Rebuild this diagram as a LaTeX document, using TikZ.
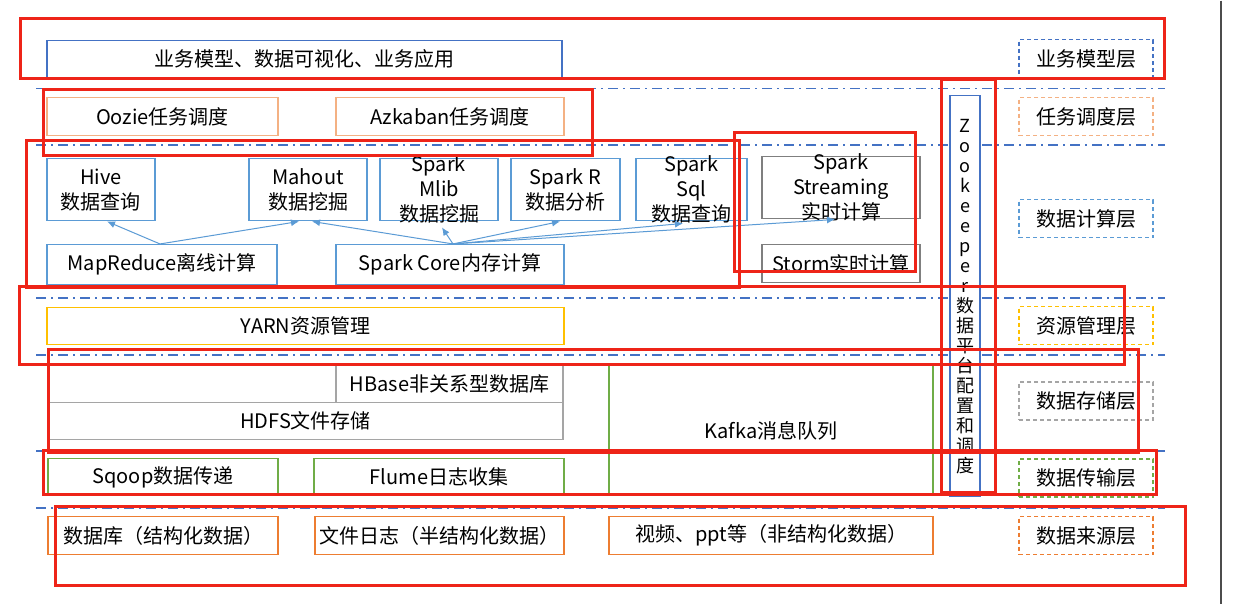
\documentclass[tikz,border=0pt]{standalone}
\usepackage{fontspec}
\setmainfont{Noto Sans CJK SC}
\usepackage{tikz}
\usetikzlibrary{arrows.meta}
\definecolor{hlred}{RGB}{238,36,24}
\definecolor{darkblue}{HTML}{4472C4}
\definecolor{boxblue}{HTML}{5B9BD5}
\definecolor{lightorange}{HTML}{F4B183}
\definecolor{srcorange}{HTML}{ED7D31}
\definecolor{yarnyellow}{HTML}{FFC000}
\definecolor{movegreen}{HTML}{70AD47}
\definecolor{storegrey}{HTML}{A5A5A5}
\definecolor{streamgrey}{HTML}{7F7F7F}
\tikzset{
  layerbox/.style={rectangle, draw, fill=white, line width=0.75pt, inner sep=0pt, text centered, align=center, font=\fontsize{10}{12.5}\selectfont},
  layertag/.style={layerbox, dash pattern=on 2pt off 1.5pt, minimum width=67pt, minimum height=19pt},
  layerline/.style={draw=darkblue, line width=0.8pt, dash pattern=on 5pt off 2.5pt on 1pt off 2.5pt},
  highlight/.style={draw=hlred, line width=1.5pt},
  arrow/.style={draw=boxblue, line width=0.5pt, -{Latex[length=4pt,width=3.5pt]}},
  stacked/.style={font=\fontsize{10}{12.5}\selectfont, align=center, inner sep=0pt}
}
\begin{document}
\begin{tikzpicture}[x=0.5pt, y=-0.5pt]
    \fill[white] (0,0) rectangle (1242,603);

    % 分隔线
    \foreach \y in {88,144,297,354,450,507}
      \draw[layerline] (36,\y) -- (1165,\y);

    % 业务模型层
    \node (business) [layerbox, draw=darkblue, minimum width=257.5pt, minimum height=18.5pt] at (304.5,58.5)
    {业务模型、数据可视化、业务应用};
    \node (tag_business) [layertag, draw=darkblue] at (1086,58) {业务模型层};

    % 任务调度层
    \node (oozie) [layerbox, draw=lightorange, minimum width=115.5pt, minimum height=19pt] at (162.5,116) {Oozie任务调度};
    \node (azkaban) [layerbox, draw=lightorange, minimum width=114pt, minimum height=19pt] at (450,116) {Azkaban任务调度};
    \node (tag_schedule) [layertag, draw=lightorange] at (1086,116) {任务调度层};

    % 数据计算层
    \node (hive) [layerbox, draw=boxblue, minimum width=54pt, minimum height=31pt] at (101,189) {Hive\\ 数据查询};
    \node (mahout) [layerbox, draw=boxblue, minimum width=59pt, minimum height=31pt] at (308,189) {Mahout\\ 数据挖掘};
    \node (mlib) [layerbox, draw=boxblue, minimum width=59pt, minimum height=31pt,
      label={[stacked]center:Spark\\ Mlib\\ 数据挖掘}] at (439,189) {};
    \node (spark_r) [layerbox, draw=boxblue, minimum width=54.5pt, minimum height=31pt] at (565.5,189) {Spark R\\ 数据分析};
    \node (spark_sql) [layerbox, draw=boxblue, minimum width=55.5pt, minimum height=31pt,
      label={[stacked]center:Spark\\ Sql\\ 数据查询}] at (691.5,189) {};
    \node (streaming) [layerbox, draw=streamgrey, minimum width=79pt, minimum height=31pt,
      label={[stacked]center:Spark\\ Streaming\\ 实时计算}] at (841,187) {};
    \node (mapreduce) [layerbox, draw=boxblue, minimum width=115pt, minimum height=20pt] at (162,264) {MapReduce离线计算};
    \node (spark_core) [layerbox, draw=boxblue, minimum width=114pt, minimum height=20pt] at (450,264) {Spark Core内存计算};
    \node (storm) [layerbox, draw=streamgrey, minimum width=79pt, minimum height=19pt] at (841,263) {Storm实时计算};
    \node (tag_compute) [layertag, draw=boxblue] at (1086,218) {数据计算层};

    % 资源管理层
    \node (yarn) [layerbox, draw=yarnyellow, minimum width=258.5pt, minimum height=18.5pt] at (305.5,325.5) {YARN资源管理};
    \node (tag_resource) [layertag, draw=yarnyellow] at (1086,325) {资源管理层};

    % 数据存储层
    \node (kafka) [layerbox, draw=movegreen, minimum width=162pt, minimum height=65pt] at (771,430) {Kafka消息队列};
    \node (hbase) [layerbox, draw=storegrey, minimum width=113.5pt, minimum height=18.5pt] at (449.5,383.5) {HBase非关系型数据库};
    \node (hdfs) [layerbox, draw=storegrey, minimum width=257.5pt, minimum height=18.5pt] at (305.5,420.5) {HDFS文件存储};
    \node (tag_storage) [layertag, draw=storegrey] at (1086,400.5) {数据存储层};

    % 数据传输层
    \node (sqoop) [layerbox, draw=movegreen, minimum width=115pt, minimum height=18.5pt] at (163,476.5) {Sqoop数据传递};
    \node (flume) [layerbox, draw=movegreen, minimum width=125pt, minimum height=18.5pt] at (439,476.5) {Flume日志收集};
    \node (tag_transport) [layertag, draw=movegreen] at (1086,477.5) {数据传输层};

    % 数据来源层
    \node (db_src) [layerbox, draw=srcorange, minimum width=115pt, minimum height=19pt] at (163,535) {数据库（结构化数据）};
    \node (log_src) [layerbox, draw=srcorange, minimum width=124.5pt, minimum height=19pt] at (439.5,535) {文件日志（半结构化数据）};
    \node (video_src) [layerbox, draw=srcorange, minimum width=162pt, minimum height=19pt] at (771,535) {视频、ppt等（非结构化数据）};
    \node (tag_source) [layertag, draw=srcorange] at (1086,535) {数据来源层};

    % Zookeeper
    \node (zookeeper) [layerbox, draw=darkblue, minimum width=15pt, minimum height=200.5pt,
      font=\fontsize{9}{10}\selectfont] at (965,295.5)
    {Z\\ o\\ o\\ k\\ e\\ e\\ p\\ e\\ r\\ 数\\ 据\\ 平\\ 台\\ 配\\ 置\\ 和\\ 调\\ 度};

    % 箭头
    \draw [arrow] ([xshift=-1pt]mapreduce.north) -- ([xshift=3pt]hive.south);
    \draw [arrow] ([xshift=-1pt]mapreduce.north) -- ([xshift=-4.5pt]mahout.south);
    \draw [arrow] ([xshift=1.5pt]spark_core.north) -- ([xshift=2pt]mahout.south);
    \draw [arrow] ([xshift=1.5pt]spark_core.north) -- ([xshift=1.5pt,yshift=-3pt]mlib.south);
    \draw [arrow] ([xshift=1.5pt]spark_core.north) -- ([xshift=-2.75pt]spark_r.south);
    \draw [arrow] ([xshift=1.5pt]spark_core.north) -- ([xshift=-4.25pt,yshift=-1pt]spark_sql.south);
    \draw [arrow] ([xshift=1.5pt]spark_core.north) -- ([xshift=-3pt]streaming.south);

    % 红框
    \draw [highlight] (20,18) rectangle (1164,78);
    \draw [highlight] (43,89) rectangle (592,155);
    \draw [highlight] (26,140) rectangle (739,287);
    \draw [highlight] (734,132) rectangle (915,271);
    \draw [highlight] (19,286) rectangle (1124,364);
    \draw [highlight] (48,349) rectangle (1138,452);
    \draw [highlight] (43,450) rectangle (1156,494);
    \draw [highlight] (55,506) rectangle (1185,585);
    \draw [highlight] (941,79) rectangle (995,492);

    \draw [black!70, line width=0.7pt] (1221,0) -- (1221,603);
\end{tikzpicture}
\end{document}
